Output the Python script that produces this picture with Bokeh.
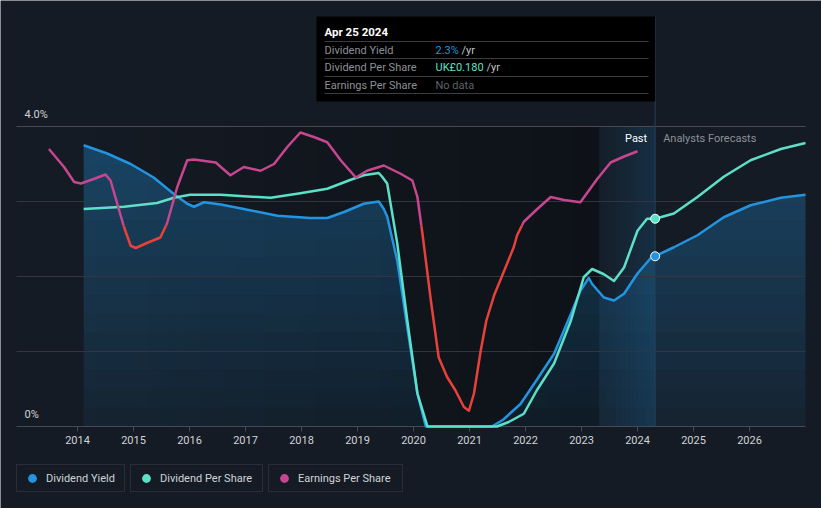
import numpy as np
from bokeh.plotting import figure
from bokeh.models import Range1d, Legend, LegendItem
from bokeh.core.properties import value
from bokeh.embed import file_html
from bokeh.resources import INLINE

# ---------------- data ----------------
dy_year = [2014.11, 2014.53, 2014.95, 2015.36, 2015.72, 2015.96, 2016.08, 2016.26, 2016.56,
           2016.97, 2017.57, 2018.16, 2018.46, 2018.76, 2019.11, 2019.38, 2019.47, 2019.53,
           2019.71, 2019.89, 2020.07, 2020.22, 2021.40, 2021.60, 2021.91, 2022.20, 2022.51,
           2022.81, 2022.98, 2023.13, 2023.19, 2023.40, 2023.58, 2023.76, 2024.00, 2024.23,
           2024.315, 2024.65, 2025.07, 2025.54, 2026.02, 2026.56, 2027.00]
dy_val = [3.75, 3.64, 3.50, 3.32, 3.10, 2.97, 2.93, 2.99, 2.96,
          2.90, 2.81, 2.78, 2.78, 2.86, 2.97, 3.00, 2.90, 2.80,
          2.21, 1.32, 0.44, 0.00, 0.00, 0.09, 0.30, 0.62, 0.97,
          1.50, 1.81, 1.98, 1.90, 1.72, 1.68, 1.77, 2.04, 2.24,
          2.27, 2.39, 2.55, 2.79, 2.95, 3.05, 3.09]

dps_year = [2014.11, 2014.83, 2015.42, 2015.72, 2016.01, 2016.56, 2016.97, 2017.45, 2017.98,
            2018.46, 2018.88, 2019.11, 2019.38, 2019.44, 2019.53, 2019.71, 2019.89, 2020.07,
            2020.25, 2021.49, 2021.70, 2021.97, 2022.20, 2022.51, 2022.81, 2023.04, 2023.19,
            2023.40, 2023.58, 2023.76, 2024.00, 2024.17, 2024.315, 2024.65, 2025.07, 2025.54,
            2026.02, 2026.56, 2027.00]
dps_val = [2.90, 2.93, 2.98, 3.05, 3.09, 3.09, 3.07, 3.05, 3.11,
           3.17, 3.29, 3.35, 3.38, 3.33, 3.24, 2.44, 1.41, 0.44,
           0.00, 0.00, 0.06, 0.17, 0.48, 0.84, 1.41, 1.99, 2.10,
           2.03, 1.94, 2.12, 2.61, 2.77, 2.77, 2.84, 3.06, 3.33,
           3.55, 3.70, 3.78]

eps_year = [2013.49, 2013.76, 2013.94, 2014.06, 2014.29, 2014.50, 2014.59, 2014.71, 2014.83,
            2014.95, 2015.04, 2015.25, 2015.48, 2015.60, 2015.78, 2015.96, 2016.08, 2016.47,
            2016.56, 2016.73, 2016.97, 2017.27, 2017.51, 2017.75, 2017.98, 2018.22, 2018.46,
            2018.70, 2018.97, 2019.17, 2019.47, 2019.77, 2019.98, 2020.07, 2020.16, 2020.31,
            2020.45, 2020.60, 2020.75, 2020.90, 2020.99, 2021.08, 2021.20, 2021.30, 2021.44,
            2021.55, 2021.67, 2021.79, 2021.85, 2021.97, 2022.21, 2022.45, 2022.69, 2022.98,
            2023.28, 2023.52, 2023.76, 2024.00]
eps_val = [3.70, 3.46, 3.26, 3.24, 3.30, 3.36, 3.28, 2.97, 2.66,
           2.41, 2.38, 2.45, 2.52, 2.71, 3.19, 3.55, 3.56, 3.52,
           3.46, 3.35, 3.46, 3.41, 3.50, 3.73, 3.92, 3.86, 3.79,
           3.55, 3.32, 3.41, 3.48, 3.37, 3.28, 3.06, 2.57, 1.68,
           0.92, 0.66, 0.48, 0.26, 0.21, 0.44, 1.01, 1.41, 1.75,
           1.95, 2.17, 2.39, 2.55, 2.73, 2.90, 3.06, 3.02, 2.99,
           3.30, 3.52, 3.60, 3.67]
eps_threshold = 2.68

x_ticks = list(range(2014, 2027))
x_tick_labels = [str(t) for t in x_ticks]
grid_values = [1, 2, 3, 4]
y_label_values = [0, 4]
y_label_texts = ["0%", "4.0%"]

now = 2024.315
series_names = ["Dividend Yield", "Dividend Per Share", "Earnings Per Share"]
tip_title = "Apr 25 2024"
tip_values = ["2.3%", "UK£0.180", "No data"]
tip_units = ["/yr", "/yr", ""]

# ---------------- style ----------------
BG = "#151b24"
BLUE = "#2394df"
TEAL = "#5ce0c8"
PINK = "#c7468f"
RED = "#e8413c"
FONT = value("Roboto")

W, H = 821, 508
PX_YEAR, PX_UNIT = 56.0, 75.0
X0_PAGE, Y0_PAGE = 77.0, 426.0


def X(px):
    return 2014 + (px - X0_PAGE) / PX_YEAR


def Y(py):
    return (Y0_PAGE - py) / PX_UNIT


p = figure(width=W, height=H, x_range=Range1d(X(0), X(W)), y_range=Range1d(Y(H), Y(0)),
           x_axis_type=None, y_axis_type=None, toolbar_location=None, output_backend="svg",
           min_border=0, outline_line_color=None, background_fill_color=BG, border_fill_color=BG)

# past darkening gradient
n = 40
edges = np.linspace(dy_year[0], now - 1.0, n + 1)
p.quad(left=edges[:-1], right=edges[1:], bottom=0, top=4, fill_color="black",
       fill_alpha=list(np.linspace(0.0, 0.32, n)), line_color=None)

# dividend-yield area with vertical gradient
xs_f = np.arange(dy_year[0], dy_year[-1] + 1e-9, 0.005)
ys_f = np.interp(xs_f, dy_year, dy_val)
levels = np.linspace(0, 4, 17)
for a, b in zip(levels[:-1], levels[1:]):
    alpha = 0.07 + 0.075 * (a + b) / 2
    p.varea(x=xs_f, y1=np.minimum(ys_f, a), y2=np.minimum(ys_f, b), fill_color=BLUE,
            fill_alpha=alpha)

# past-year band
m = 20
bedges = np.linspace(now - 1.0, now, m + 1)
p.quad(left=bedges[:-1], right=bedges[1:], bottom=0, top=4, fill_color=BLUE,
       fill_alpha=list(np.linspace(0.03, 0.17, m)), line_color=None)

# grid lines and axis
p.segment(x0=X(16), x1=X(805), y0=grid_values, y1=grid_values,
          line_color=["#30353f", "#30353f", "#30353f", "#464a52"], line_width=1)
p.segment(x0=X(16), x1=X(805), y0=0, y1=0, line_color="#454b56", line_width=1)
p.segment(x0=x_ticks, x1=x_ticks, y0=0, y1=-5 / PX_UNIT, line_color="#454b56", line_width=1)
p.text(x=x_ticks, y=-13 / PX_UNIT, text=x_tick_labels, text_font=FONT, text_font_size="11px",
       text_color="#d0d3d8", text_align="center", text_baseline="middle")
p.text(x=X(24), y=[v + 12 / PX_UNIT for v in y_label_values], text=y_label_texts, text_font=FONT,
       text_font_size="11px", text_color="#d0d3d8", text_align="left", text_baseline="middle")

# now line
p.segment(x0=now, x1=now, y0=0, y1=Y(16), line_color="#24415c", line_width=1)

# series lines
p.line(dy_year, dy_val, line_color=BLUE, line_width=2.5, line_join="round")
p.line(dps_year, dps_val, line_color=TEAL, line_width=2.5, line_join="round")


def split_segments(xs, ys, thr):
    segs = []
    cx, cy = [xs[0]], [ys[0]]
    above = ys[0] >= thr
    for i in range(1, len(xs)):
        x0, y0, x1, y1 = xs[i - 1], ys[i - 1], xs[i], ys[i]
        ab = y1 >= thr
        if ab != above:
            t = (thr - y0) / (y1 - y0)
            xc = x0 + t * (x1 - x0)
            cx.append(xc)
            cy.append(thr)
            segs.append((cx, cy, above))
            cx, cy = [xc], [thr]
            above = ab
        cx.append(x1)
        cy.append(y1)
    segs.append((cx, cy, above))
    return segs


segs = split_segments(eps_year, eps_val, eps_threshold)
p.multi_line(xs=[s[0] for s in segs if s[2]], ys=[s[1] for s in segs if s[2]],
             line_color=PINK, line_width=2.5, line_join="round")
p.multi_line(xs=[s[0] for s in segs if not s[2]], ys=[s[1] for s in segs if not s[2]],
             line_color=RED, line_width=2.5, line_join="round")

# now markers
i_dy = dy_year.index(now)
i_dps = dps_year.index(now)
p.scatter([now], [dy_val[i_dy]], size=9, fill_color=BLUE, line_color="white", line_width=1)
p.scatter([now], [dps_val[i_dps]], size=9, fill_color=TEAL, line_color="white", line_width=1)

# Past / Analysts Forecasts
p.text(x=now - 8 / PX_YEAR, y=Y(138), text=["Past"], text_font=FONT, text_font_size="11px",
       text_color="#ffffff", text_align="right", text_baseline="middle")
p.text(x=now + 8 / PX_YEAR, y=Y(138), text=["Analysts Forecasts"], text_font=FONT,
       text_font_size="11px", text_color="#8b9098", text_align="left", text_baseline="middle")

# tooltip
p.quad(left=X(316), right=now, top=Y(16), bottom=Y(101), fill_color="black", line_color=None)
p.segment(x0=X(324), x1=X(648), y0=[Y(41), Y(58), Y(76), Y(93)], y1=[Y(41), Y(58), Y(76), Y(93)],
          line_color="#3a3d42", line_width=1)
p.text(x=X(324), y=Y(31), text=[tip_title], text_font=FONT, text_font_size="11.5px",
       text_font_style="bold", text_color="#ffffff", text_align="left", text_baseline="middle")
row_y = [Y(49.5), Y(66.5), Y(84.5)]
p.text(x=X(324), y=row_y, text=series_names, text_font=FONT, text_font_size="11px",
       text_color="#8c9097", text_align="left", text_baseline="middle")
p.text(x=X(435), y=row_y, text=tip_values, text_font=FONT, text_font_size="11px",
       text_color=[BLUE, TEAL, "#5e6269"], text_align="left", text_baseline="middle")
p.text(x=[X(461), X(486)], y=row_y[:2], text=tip_units[:2], text_font=FONT, text_font_size="11px",
       text_color="#c0c4ca", text_align="left", text_baseline="middle")

# legend (three separate boxes); zero-size markers on each series serve as legend glyphs
series_x = [dy_year, dps_year, eps_year]
series_y = [dy_val, dps_val, eps_val]
for name, col, sx, sy, lx, lw in zip(series_names, [BLUE, TEAL, PINK], series_x, series_y,
                                     [16, 130, 268], [76, 100, 102]):
    r = p.scatter(x=[sx[-1]], y=[sy[-1]], size=0, fill_color=col, line_color=None)
    leg = Legend(items=[LegendItem(label=name, renderers=[r])], location=(lx, H - 492),
                 orientation="horizontal", padding=2, spacing=0, margin=0,
                 glyph_width=26, glyph_height=22, label_height=20, label_width=lw,
                 label_standoff=1,
                 label_text_font="Roboto", label_text_font_size="11px",
                 label_text_color="#cfd3d8", border_line_color="#3b404a", border_line_width=1,
                 background_fill_color=BG, background_fill_alpha=1.0)
    p.add_layout(leg)

open("out.html", "w").write(file_html(p, INLINE))
